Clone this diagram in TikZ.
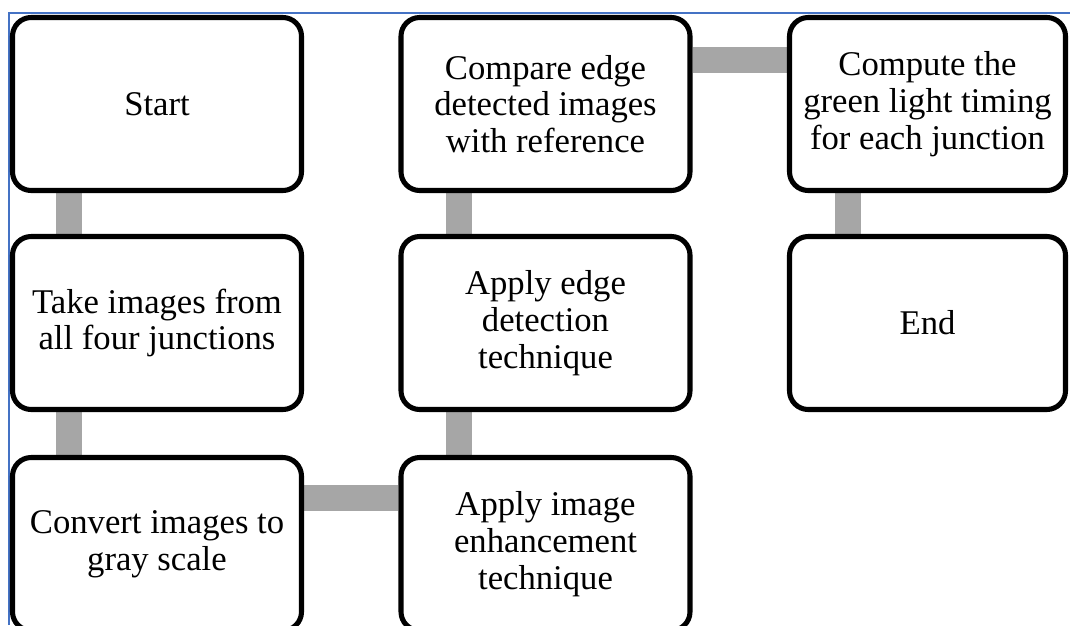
\documentclass[tikz,border=0pt]{standalone}
\usepackage{fontspec}
\setmainfont{Liberation Serif}
\usetikzlibrary{calc,backgrounds}
\definecolor{frameblue}{RGB}{68,114,196}
\definecolor{conngray}{RGB}{166,166,166}
\tikzset{
  stepbox/.style={draw=black, line width=3.8pt, rounded corners=14pt, fill=white,
    align=center, inner sep=0pt, font=\fontsize{26}{27.5}\selectfont},
  wide/.style={minimum width=216.75pt, minimum height=129.75pt},
  narrow/.style={minimum width=207pt, minimum height=129.75pt},
  conn/.style={draw=conngray, line width=19.5pt}
}
\begin{document}
\begin{tikzpicture}[x=0.75pt,y=-0.75pt]
\useasboundingbox (0,0) rectangle (1070,625);
\clip (0,0) rectangle (1070,625);
\draw[frameblue, line width=1.2pt] (9,625) -- (9,13) -- (1070,13);
\node[stepbox,wide] (start) at (157,104) {Start};
\node[stepbox,wide] (take) at (157,323) {Take images from\\all four junctions};
\node[stepbox,wide] (gray) at (157,544) {Convert images to\\gray scale};
\node[stepbox,wide] (enh) at (545.5,544) {Apply image\\enhancement\\technique};
\node[stepbox,wide] (edge) at (545.5,323) {Apply edge\\detection\\technique};
\node[stepbox,wide] (cmp) at (545.5,104) {Compare edge\\detected images\\with reference};
\node[stepbox,narrow] (timing) at (927.5,104) {Compute the\\green light timing\\for each junction};
\node[stepbox,narrow] (end) at (927.5,323) {End};
\begin{scope}[on background layer]
\draw[conn] ($(start.south)+(-88.5,0)$) -- ($(take.north)+(-88.5,0)$);
\draw[conn] ($(take.south)+(-88.5,0)$) -- ($(gray.north)+(-88.5,0)$);
\draw[conn] ($(gray.east)+(0,-46)$) -- ($(enh.west)+(0,-46)$);
\draw[conn] ($(enh.north)+(-87,0)$) -- ($(edge.south)+(-87,0)$);
\draw[conn] ($(edge.north)+(-87,0)$) -- ($(cmp.south)+(-87,0)$);
\draw[conn] ($(cmp.east)+(0,-44.5)$) -- ($(timing.west)+(0,-44.5)$);
\draw[conn] ($(timing.south)+(-80,0)$) -- ($(end.north)+(-80,0)$);
\end{scope}
\end{tikzpicture}
\end{document}
